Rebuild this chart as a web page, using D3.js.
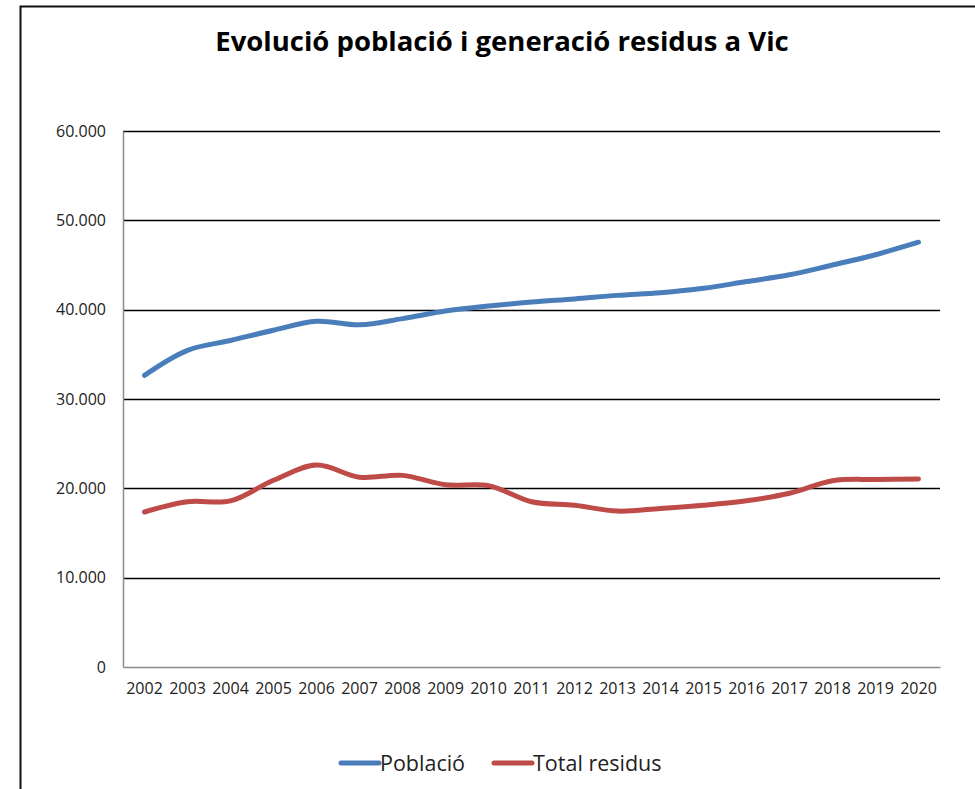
<!DOCTYPE html>
<html>
<head>
<meta charset="utf-8">
<script src="https://cdn.jsdelivr.net/npm/d3@7"></script>
<style>
  body { margin: 0; background: #fff; }
  text { font-family: "Open Sans", "Noto Sans", sans-serif; fill: #222; }
</style>
</head>
<body>
<svg id="chart"></svg>
<script>
const years = ["2002", "2003", "2004", "2005", "2006", "2007", "2008", "2009", "2010", "2011",
    "2012", "2013", "2014", "2015", "2016", "2017", "2018", "2019", "2020"];
const poblacio = [32650, 35450, 36550, 37700, 38700, 38300, 39000, 39850, 40400, 40850,
    41200, 41600, 41900, 42400, 43150, 43900, 45000, 46150, 47550];
const residus = [17350, 18500, 18600, 20900, 22600, 21250, 21450, 20400, 20300, 18500,
    18100, 17450, 17750, 18100, 18600, 19450, 20850, 21000, 21050];
const yTicks = [0, 10000, 20000, 30000, 40000, 50000, 60000];

const series = [
    { name: "Població", values: poblacio, color: "#4a7ebb" },
    { name: "Total residus", values: residus, color: "#be4b48" }
];

const W = 975, H = 789;
const margin = {top: 131, right: 35, bottom: 122, left: 123},
    width = W - margin.left - margin.right,
    height = H - margin.top - margin.bottom;

const svg = d3.select("#chart")
    .attr("width", W)
    .attr("height", H);

// outer frame (cut off on right and bottom like the screenshot)
svg.append("rect")
    .attr("x", 20.5).attr("y", 6.5)
    .attr("width", W + 20).attr("height", H + 20)
    .attr("fill", "none")
    .attr("stroke", "#111")
    .attr("stroke-width", 2);

// title
svg.append("text")
    .attr("x", 502)
    .attr("y", 51)
    .attr("text-anchor", "middle")
    .style("font-size", "27.5px")
    .style("font-weight", "bold")
    .style("fill", "#000")
    .text("Evolució població i generació residus a Vic");

const g = svg.append("g")
    .attr("transform", `translate(${margin.left},${margin.top})`);

const x = d3.scaleBand()
    .domain(years)
    .range([0, width]);

const y = d3.scaleLinear()
    .domain([0, 60000])
    .range([height, 0]);

// gridlines
g.append("g")
    .selectAll("line")
    .data(yTicks.filter(d => d > 0))
    .join("line")
    .attr("x1", 0).attr("x2", width)
    .attr("y1", d => Math.round(y(d)) + 0.5)
    .attr("y2", d => Math.round(y(d)) + 0.5)
    .attr("stroke", "#000")
    .attr("stroke-width", 1.3);

// Y axis
const fmt = d => d === 0 ? "0" : d3.format(",")(d).replace(/,/g, ".");
const yAxis = g.append("g")
    .call(d3.axisLeft(y).tickValues(yTicks).tickFormat(fmt).tickSize(0).tickPadding(17));
yAxis.select(".domain").attr("stroke", "#8c8c8c").attr("stroke-width", 1.5);
yAxis.selectAll("text").style("font-size", "16px").style("font-family", "'Open Sans', sans-serif");

// X axis
const xAxis = g.append("g")
    .attr("transform", `translate(0,${height})`)
    .call(d3.axisBottom(x).tickSize(0).tickPadding(16));
xAxis.select(".domain").attr("stroke", "#8c8c8c").attr("stroke-width", 1.5);
xAxis.selectAll("text").style("font-size", "16px").style("font-family", "'Open Sans', sans-serif");

// lines
const line = d3.line()
    .x((d, i) => x(years[i]) + x.bandwidth() / 2)
    .y(d => y(d))
    .curve(d3.curveCatmullRom.alpha(0.5));

g.selectAll(".series")
    .data(series)
    .join("path")
    .attr("class", "series")
    .attr("fill", "none")
    .attr("stroke", d => d.color)
    .attr("stroke-width", 5)
    .attr("stroke-linecap", "round")
    .attr("stroke-linejoin", "round")
    .attr("d", d => line(d.values));

// legend
const legend = svg.append("g").attr("transform", "translate(341,763)");
const legendX = [0, 153];
series.forEach((s, i) => {
    const lg = legend.append("g").attr("transform", `translate(${legendX[i]},0)`);
    lg.append("line")
        .attr("x1", 0).attr("x2", 38)
        .attr("y1", 0).attr("y2", 0)
        .attr("stroke", s.color)
        .attr("stroke-width", 5)
        .attr("stroke-linecap", "round");
    lg.append("text")
        .attr("x", 39)
        .attr("y", 8)
        .style("font-size", "21.5px")
        .text(s.name);
});
</script>
</body>
</html>
